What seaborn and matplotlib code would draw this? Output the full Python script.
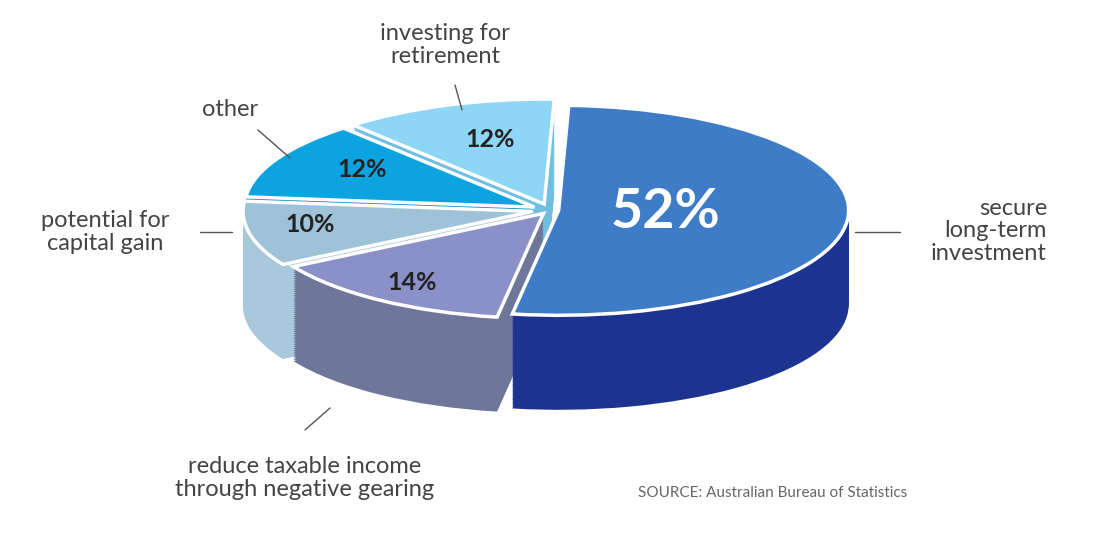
import matplotlib
matplotlib.use("Agg")
import matplotlib.pyplot as plt
import seaborn as sns
import numpy as np

sns.set_theme(style="white")
plt.rcParams['font.family'] = ['Lato', 'DejaVu Sans']

labels = ["secure\nlong-term\ninvestment", "reduce taxable income\nthrough negative gearing",
          "potential for\ncapital gain", "other", "investing for\nretirement"]
values = [52, 14, 10, 12, 12]
top_colors = ["#3F7CC8", "#8A90C8", "#9EC2D8", "#0BA4E0", "#8ED6F5"]
side_colors = ["#1C3490", "#6E7699", "#A8C8DC", "#0A8CC0", "#70BEE0"]

fig = plt.figure(figsize=(11, 5.37), dpi=100)
ax = fig.add_axes([0, 0, 1, 1])
cx, cy, rx, ry = 550, 210, 290, 105
def P(x, y):
    return ((x - cx) / rx, (cy - y) / ry)

explode = [0.03, 0.04, 0.06, 0.06, 0.06]
depth = 0.9
for k in np.linspace(depth, 0.01, 45):
    ax.pie(values, colors=side_colors, startangle=88, counterclock=False,
           explode=explode, center=(0, -k), radius=1,
           wedgeprops=dict(linewidth=0), frame=True)
w, t, at = ax.pie(values, colors=top_colors, startangle=88, counterclock=False,
                  explode=explode, center=(0, 0), radius=1, autopct='%d%%',
                  pctdistance=0.6, wedgeprops=dict(linewidth=2.5, edgecolor='white'),
                  frame=True)
ax.set_aspect('auto')
ax.set_xlim(P(0, 0)[0], P(1100, 0)[0])
ax.set_ylim(P(0, 537)[1], P(0, 0)[1])
ax.axis('off')
for i, a in enumerate(at):
    if i == 0:
        a.set_color('white'); a.set_fontsize(40); a.set_fontweight('bold')
        a.set_position(P(665, 212))
    else:
        a.set_color('#222222'); a.set_fontsize(18); a.set_fontweight('bold')
pos = {1: (412, 283), 2: (310, 225), 3: (362, 170), 4: (490, 140)}
for i, p in pos.items():
    at[i].set_position(P(*p))

tc = '#444444'
fs = 17
ax.text(*P(445, 45), labels[4], ha='center', va='center', fontsize=fs, color=tc, linespacing=1.1)
ax.text(*P(230, 110), labels[3], ha='center', va='center', fontsize=fs, color=tc)
ax.text(*P(105, 232), labels[2], ha='center', va='center', fontsize=fs, color=tc, linespacing=1.1)
ax.text(*P(1047, 231), labels[0], ha='right', va='center', fontsize=fs, color=tc, multialignment='right', linespacing=1.1)
ax.text(*P(305, 478), labels[1], ha='center', va='center', fontsize=fs, color=tc, linespacing=1.1)
ax.text(*P(773, 493), "SOURCE: Australian Bureau of Statistics", ha='center', va='center', fontsize=11, color='#666666')
for (x1, y1), (x2, y2) in [((455, 85), (462, 110)), ((258, 130), (290, 158)),
                           ((200, 232), (232, 232)), ((855, 232), (900, 232)),
                           ((330, 408), (305, 430))]:
    a1, b1 = P(x1, y1); a2, b2 = P(x2, y2)
    ax.plot([a1, a2], [b1, b2], color='#555555', lw=1)

fig.savefig("out.png", dpi=100)
